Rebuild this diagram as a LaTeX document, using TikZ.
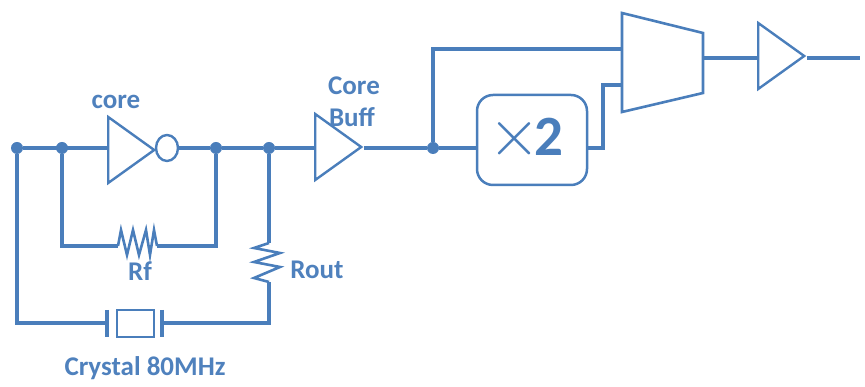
\documentclass[tikz,border=0pt]{standalone}
\usepackage{graphicx}
\usepackage{fontspec}
\setmainfont{Carlito}
\usepackage{tikz}
\usetikzlibrary{shapes.geometric}
\definecolor{wireblue}{HTML}{4A7EBB}
\definecolor{textblue}{HTML}{4F81BD}
\tikzset{
  wire/.style={color=wireblue,line width=3.4pt,line join=miter},
  part/.style={color=wireblue,line width=2.6pt},
  dot/.style={circle,fill=wireblue,inner sep=0pt,minimum size=12pt},
  lbl/.style={color=textblue,font=\fontsize{27}{29}\selectfont\bfseries,inner sep=0pt},
  amp/.style={draw=wireblue,line width=2.4pt,fill=white,isosceles triangle,isosceles triangle stretches,
    shape border rotate=0,inner sep=0pt,minimum width=66pt,minimum height=46pt,anchor=lower side},
}
\begin{document}
\begin{tikzpicture}[x=1pt,y=1pt]
\useasboundingbox (0.000000,0.000000) rectangle (865.000000,387.000000);
% Junctions
\node[dot] (nin) at (17,239) {};
\node[dot] (nfb) at (62,239) {};
\node[dot] (nout) at (216,239) {};
\node[dot] (nrout) at (269,239) {};
\node[dot] (nbuff) at (433,239) {};
\coordinate (cornerxl) at (17,64);
\coordinate (cornerxr) at (269,64);
\coordinate (cornerfl) at (62,141);
\coordinate (cornerfr) at (216,141);
\coordinate (cornermux) at (433,338);
\coordinate (cornerdbl) at (603,239);
\coordinate (cornerdbh) at (603,302);
\coordinate (muxina) at (622,338);
\coordinate (muxinb) at (622,302);
\coordinate (muxout) at (703,329);
\coordinate (rfa) at (118,141);
\coordinate (rfb) at (157,141);
\coordinate (routa) at (269,144);
\coordinate (routb) at (269,105);
\coordinate (platel) at (107,64);
\coordinate (plater) at (162,64);
\coordinate (lineend) at (860,329);
% Parts
\node[amp] (core) at (107,237) {};
\node[draw=wireblue,line width=2.4pt,fill=white,ellipse,inner sep=0pt,minimum width=22pt,minimum height=26pt] (bubble) at (167,239) {};
\node[amp] (buff) at (314,240) {};
\node[amp] (drv) at (757,331) {};
\node[draw=wireblue,line width=2.5pt,rounded corners=16pt,minimum width=110pt,minimum height=90pt,inner sep=0pt] (dbl) at (532,247) {};
\node[color=wireblue,inner sep=0pt,anchor=base,font=\fontsize{57}{57}\selectfont\bfseries] (dbltxt) at (526,231) {\scalebox{6.7}{\fontsize{10}{12}\selectfont$\times$}\kern-6pt 2};
% Mux
\draw[part] (622,374) -- (703,354) -- (703,294) -- (622,275) -- cycle;
\node[draw=wireblue,line width=2.4pt,inner sep=0pt,minimum width=37pt,minimum height=27pt] (xtal) at (135.5,63.5) {};
% Wires
\draw[wire] (nin) -- (core.west |- nin);
\draw[wire] (bubble) -- (nout) -- (nrout) -- (buff.west |- nrout);
\draw[wire] (buff.east |- nbuff) -- (nbuff) -- (dbl.west |- nbuff);
\draw[wire] (nbuff) -- (cornermux) -- (muxina);
\draw[wire] (dbl.east |- cornerdbl) -- (cornerdbl) -- (cornerdbh) -- (muxinb);
\draw[wire] (muxout) -- (drv.west |- muxout);
\draw[wire] (drv.east |- lineend) -- (lineend);
% Feedback resistor
\draw[wire] (nfb) -- (cornerfl) -- (rfa);
\draw[wire] (rfb) -- (cornerfr) -- (nout);
\draw[part] (rfa) -- ++(3,16) -- ++(6,-25) -- ++(6,25) -- ++(6,-25) -- ++(7,25) -- ++(4,-25) -- ++(4,25) -- (rfb);
% Output resistor and crystal
\draw[wire] (nrout) -- (routa);
\draw[part] (routa) -- ++(-15,-5) -- ++(26,-5) -- ++(-26,-9) -- ++(26,-5) -- ++(-26,-11) -- (routb);
\draw[wire] (routb) -- (cornerxr) -- (plater);
\draw[wire] (nin) -- (cornerxl) -- (platel);
\draw[wire] (platel |- 0,77) -- (platel |- 0,50);
\draw[wire] (plater |- 0,77) -- (plater |- 0,50);
% Labels
\node[lbl] (lcore) at (116,285) {core};
\node[lbl] (lcoreb) at (354,301) {Core};
\node[lbl] (lbuff) at (352,270) {Buff};
\node[lbl] (lrf) at (140,116) {Rf};
\node[lbl] (lrout) at (317,117) {Rout};
\node[lbl] (lxtal) at (145,19) {Crystal 80MHz};
\end{tikzpicture}
\end{document}
